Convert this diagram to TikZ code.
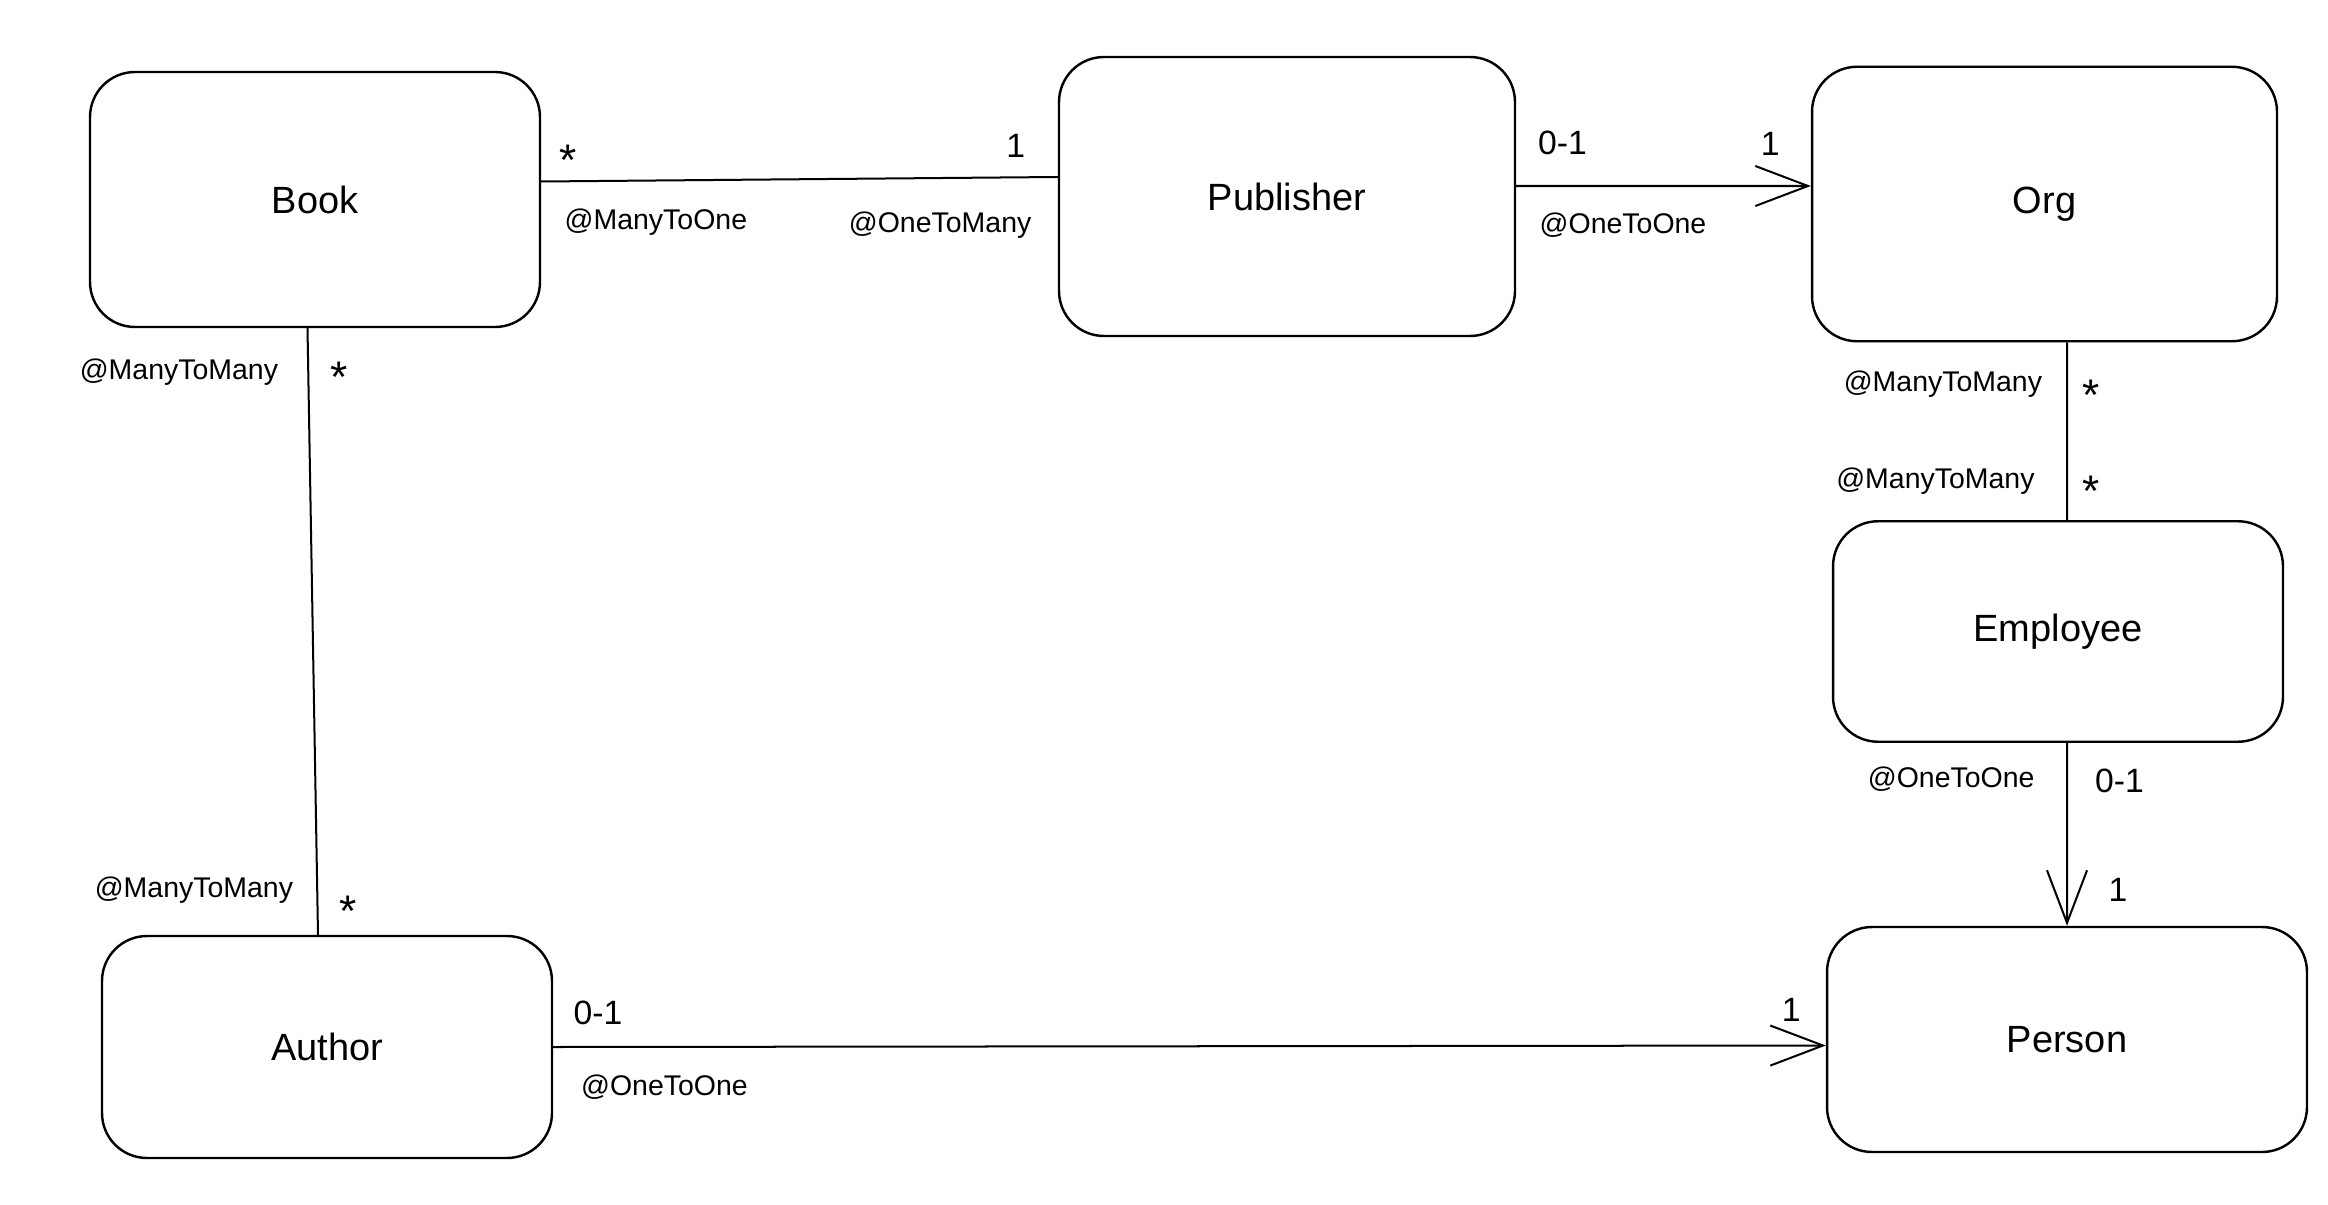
\documentclass[tikz,border=0pt]{standalone}
\usepackage{fontspec}
\setmainfont{Liberation Sans}
\usetikzlibrary{arrows.meta}

\newcommand{\entityfont}{\fontsize{36}{40}\selectfont}
\newcommand{\multfont}{\fontsize{32}{36}\selectfont}
\newcommand{\starfont}{\fontsize{42}{46}\selectfont}
\newcommand{\rolefont}{\fontsize{27}{30}\selectfont}

\tikzset{
  entity/.style={draw, line width=2.3pt, rounded corners=1.5cm, font=\entityfont},
  link/.style={line width=1.9pt},
  tolink/.style={link, -{Straight Barb[length=50pt,width=38pt]}},
  mult/.style={font=\multfont, inner sep=0pt},
  star/.style={mult, font=\starfont},
  role/.style={font=\rolefont, inner sep=0pt}
}

\begin{document}
\begin{tikzpicture}[x=0.05cm, y=-0.05cm]
            \useasboundingbox (0,0) rectangle (1552,802.67);

            \node[entity, minimum width=15cm, minimum height=8.5cm] (book) at (210,133) {Book};
            \node[entity, minimum width=15.2cm, minimum height=9.3cm] (publisher) at (858,131) {Publisher};
            \node[entity, minimum width=15.5cm, minimum height=9.15cm] (org) at (1363,136) {Org};
            \node[entity, minimum width=15cm, minimum height=7.35cm] (employee) at (1372,421) {Employee};
            \node[entity, minimum width=15cm, minimum height=7.4cm] (author) at (218,698) {Author};
            \node[entity, minimum width=16cm, minimum height=7.5cm] (person) at (1378,693) {Person};

            % book -- publisher
            \draw[link] ([yshift=0.6cm]book.east) --
                node[star, pos=0, xshift=0.9cm, yshift=0.7cm] (bpm1) {*}
                node[role, pos=0, anchor=west, xshift=0.75cm, yshift=-1.35cm] (bpr1) {@ManyToOne}
                node[mult, pos=1, xshift=-1.4cm, yshift=1.05cm] (bpm2) {1}
                node[role, pos=1, anchor=east, xshift=-0.85cm, yshift=-1.6cm] (bpr2) {@OneToMany}
                ([yshift=0.65cm]publisher.west);

            % publisher -> org
            \draw[tolink] ([yshift=0.35cm]publisher.east) --
                node[mult, pos=0, anchor=west, xshift=0.7cm, yshift=1.45cm] (pom1) {0-1}
                node[role, pos=0, anchor=west, xshift=0.75cm, yshift=-1.3cm] (por1) {@OneToOne}
                node[mult, pos=1, xshift=-1.35cm, yshift=1.4cm] (pom2) {1}
                ([yshift=0.6cm]org.west);

            % org -- employee
            \draw[link] ([xshift=0.75cm]org.south) --
                node[role, pos=0, anchor=east, xshift=-0.8cm, yshift=-1.4cm] (oer1) {@ManyToMany}
                node[star, pos=0, xshift=0.8cm, yshift=-1.75cm] (oem1) {*}
                node[role, pos=1, anchor=east, xshift=-1.05cm, yshift=1.3cm] (oer2) {@ManyToMany}
                node[star, pos=1, xshift=0.8cm, yshift=0.95cm] (oem2) {*}
                ([xshift=0.3cm]employee.north);

            % book -- author
            \draw[link] ([xshift=-0.25cm]book.south) --
                node[role, pos=0, anchor=east, xshift=-0.95cm, yshift=-1.45cm] (bar1) {@ManyToMany}
                node[star, pos=0, xshift=1.05cm, yshift=-1.65cm] (bam1) {*}
                node[role, pos=1, anchor=east, xshift=-0.8cm, yshift=1.5cm] (bar2) {@ManyToMany}
                node[star, pos=1, xshift=1.0cm, yshift=0.8cm] (bam2) {*}
                ([xshift=-0.3cm]author.north);

            % employee -> person
            \draw[tolink] ([xshift=0.3cm]employee.south) --
                node[role, pos=0, anchor=east, xshift=-1.05cm, yshift=-1.2cm] (epr1) {@OneToOne}
                node[mult, pos=0, anchor=west, xshift=0.9cm, yshift=-1.25cm] (epm1) {0-1}
                node[mult, pos=1, xshift=1.7cm, yshift=1.2cm] (epm2) {1}
                (person.north);

            % author -> person
            \draw[tolink] (author.east) --
                node[mult, pos=0, anchor=west, xshift=0.65cm, yshift=1.15cm] (apm1) {0-1}
                node[role, pos=0, anchor=west, xshift=0.9cm, yshift=-1.35cm] (apr1) {@OneToOne}
                node[mult, pos=1, xshift=-1.15cm, yshift=1.2cm] (apm2) {1}
                ([yshift=-0.2cm]person.west);
        \end{tikzpicture}
\end{document}
